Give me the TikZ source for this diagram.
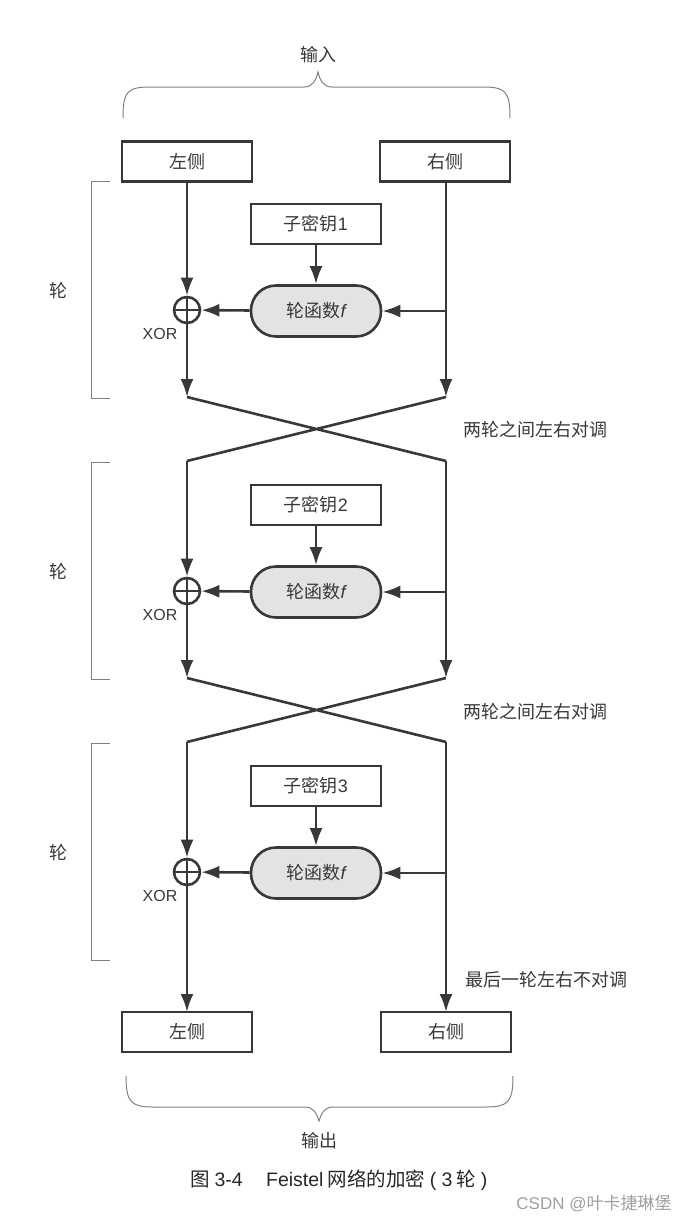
\documentclass[tikz,border=0pt]{standalone}
\usepackage{fontspec}
\setmainfont{Noto Sans CJK SC}
\newfontfamily\lsans{Liberation Sans}
\usetikzlibrary{arrows.meta}
\definecolor{ink}{HTML}{383838}

\tikzset{
  box/.style={draw=ink,line width=2.6pt,minimum width=130pt,minimum height=40pt,
    inner sep=0pt,text=ink,font=\fontsize{18}{21}\selectfont},
  fbox/.style={box,fill=gray!22,rounded corners=25pt,minimum height=51pt},
  xorc/.style={draw=ink,circle,line width=2.6pt,minimum size=26pt,inner sep=0pt},
  lab/.style={text=ink,font=\fontsize{18}{21}\selectfont},
  wire/.style={ink,line width=2.6pt},
  bracket/.style={gray,line width=1pt},
}

\begin{document}
\begin{tikzpicture}[x=1pt,y=-1pt,>={Latex[length=18pt,width=13pt]}]
        \useasboundingbox (0,0) rectangle (698,1224);

        % input
        \node[lab] (in) at (318,55) {输入};
        \draw[bracket] (123,118) .. controls (123,92) and (127,87) .. (150,87) -- (304,87)
        .. controls (313,87) and (316,80) .. (318,72) .. controls (320,80) and (323,87) .. (332,87)
        -- (483,87) .. controls (506,87) and (510,92) .. (510,118);
        \node[box] (L0) at (187,161.5) {左侧};
        \node[box] (R0) at (445,161.5) {右侧};

        % three rounds
        \foreach \r in {1,2,3}{
          \pgfmathsetmacro\yy{310+281*(\r-1)}
          \pgfmathsetmacro\yo{\r==3 ? 1012 : \yy+87}
          \coordinate (a\r) at (187,\yy-130);
          \coordinate (b\r) at (446,\yy-130);
          \coordinate (c\r) at (187,\yo);
          \coordinate (d\r) at (446,\yo);
          \node[box] (key\r) at (316,\yy-86) {子密钥{\lsans\r}};
          \node[fbox] (f\r) at (316,\yy+1) {轮函数{\lsans\itshape f}};
          \node[xorc] (x\r) at (187,\yy) {};
          \draw[wire] (x\r.north) -- (x\r.south) (x\r.west) -- (x\r.east);
          \node[lab,font=\lsans\fontsize{16}{19}\selectfont] (xl\r) at (160,\yy+24) {XOR};
          \node[lab] (round\r) at (58,\yy-19) {轮};
          \draw[bracket] (110,\yy-129) -- (91,\yy-129) -- (91,\yy+88) -- (110,\yy+88);

          \draw[wire,->] (key\r) -- (f\r);
          \draw[wire,->] (f\r) -- (x\r);
          \draw[wire,->] (b\r |- f\r.east) -- (f\r.east);
          \draw[wire,->] (a\r) -- (x\r.north);
          \draw[wire,->] (x\r.south) -- (c\r);
          \draw[wire,->] (b\r) -- (d\r);
        }

        % swap between rounds
        \draw[wire] (c1) -- (b2) (d1) -- (a2);
        \draw[wire] (c2) -- (b3) (d2) -- (a3);
        \node[lab] (swap1) at (535,430) {两轮之间左右对调};
        \node[lab] (swap2) at (535,712) {两轮之间左右对调};
        \node[lab] (last) at (546,980) {最后一轮左右不对调};

        % output
        \node[box] (L4) at (187,1032) {左侧};
        \node[box] (R4) at (446,1032) {右侧};
        \draw[bracket] (126,1076) .. controls (126,1102) and (131,1107) .. (153,1107) -- (305,1107)
        .. controls (314,1107) and (317,1114) .. (319,1121) .. controls (321,1114) and (324,1107) .. (333,1107)
        -- (486,1107) .. controls (508,1107) and (513,1102) .. (513,1076);
        \node[lab] (out) at (319,1141) {输出};

        \node[text=black!85,font=\fontsize{19.5}{22}\selectfont] (cap) at (339,1180)
          {图 {\lsans 3-4}\hspace{1.2em}{\lsans Feistel} 网络的加密 {\lsans( 3} 轮 {\lsans)}};
        \node[text=gray!75,font=\lsans\fontsize{17}{20}\selectfont] (mark) at (594,1204) {CSDN @\mbox{\fontspec{Noto Sans CJK SC}叶卡捷琳堡}};

    \end{tikzpicture}
\end{document}
